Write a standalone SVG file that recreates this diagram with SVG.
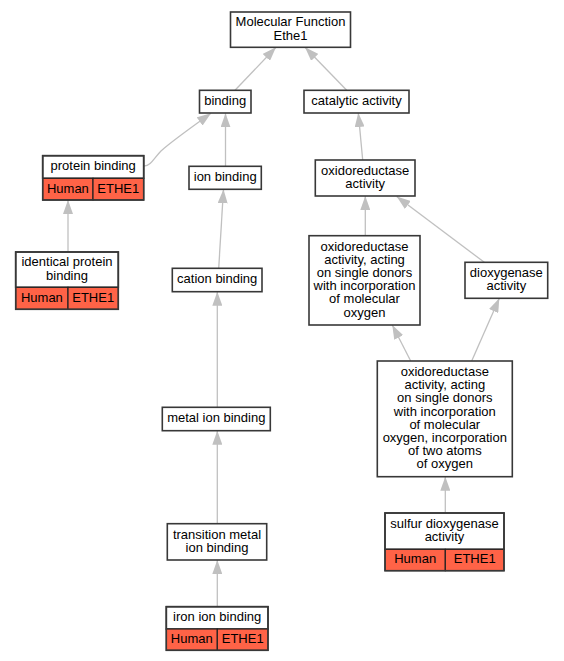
<svg xmlns="http://www.w3.org/2000/svg" width="564" height="661" viewBox="0 0 564 661">
<defs>
<style>
.n{fill:#ffffff;stroke:#383838;stroke-width:1.6}
.c{fill:#ff6347;stroke:#222222;stroke-width:1.2}
.e{fill:none;stroke:#c0c0c0;stroke-width:1.3;marker-end:url(#a)}
text{font-family:"Liberation Sans",Arial,sans-serif;font-size:13px;fill:#000000;text-anchor:middle}
</style>
<marker id="a" markerUnits="userSpaceOnUse" markerWidth="14" markerHeight="10" refX="14" refY="5" orient="auto">
<path d="M0,0 L14,5 L0,10 z" fill="#c0c0c0"/>
</marker>
</defs>
<rect width="564" height="661" fill="#ffffff"/>
<g id="connectors">
<path class="e" d="M235,90.3 L276,47.3"/>
<path class="e" d="M346.7,90.3 L305,47.3"/>
<path class="e" d="M144,166 C151,166 154,158 161,151 C172,141 192,127 211,113.3"/>
<path class="e" d="M225.5,166.3 L225.5,113.3"/>
<path class="e" d="M68,252 L68,200"/>
<path class="e" d="M218.7,268.3 L223.5,189.3"/>
<path class="e" d="M362.7,160 L358.3,113"/>
<path class="e" d="M365.3,235.7 L365.3,196"/>
<path class="e" d="M484.3,262.3 L396.7,196.5"/>
<path class="e" d="M410.7,361 L392.3,325"/>
<path class="e" d="M471.7,361 L499.3,298.3"/>
<path class="e" d="M217.3,407.3 L217.3,291.7"/>
<path class="e" d="M217.3,523.7 L217.3,430.7"/>
<path class="e" d="M445.3,513 L445.3,476.7"/>
<path class="e" d="M217.3,606.7 L217.3,560"/>
</g>
<g id="mf">
<rect class="n" x="230.5" y="12" width="120" height="35.3"/>
<text x="290.5" y="26.4">Molecular Function</text>
<text x="290.5" y="39.6">Ethe1</text>
</g>
<g id="binding">
<rect class="n" x="199.5" y="90.3" width="51.5" height="22.7"/>
<text x="225.2" y="105">binding</text>
</g>
<g id="catalytic">
<rect class="n" x="304" y="90.3" width="105" height="22.7"/>
<text x="356.5" y="105">catalytic activity</text>
</g>
<g id="protein-binding">
<rect class="n" x="42.7" y="155.7" width="101" height="22.6"/>
<rect class="c" x="42.7" y="178.3" width="50.3" height="21.7"/>
<rect class="c" x="93" y="178.3" width="50.7" height="21.7"/>
<rect x="42.7" y="155.7" width="101" height="44.3" fill="none" stroke="#383838" stroke-width="1.6"/>
<text x="93.2" y="170.3">protein binding</text>
<text x="67.9" y="192.5">Human</text>
<text x="118.3" y="192.5">ETHE1</text>
</g>
<g id="ion-binding">
<rect class="n" x="189" y="166.3" width="72.3" height="23"/>
<text x="225.2" y="181.1">ion binding</text>
</g>
<g id="oxidoreductase">
<rect class="n" x="315.3" y="160" width="99.7" height="36"/>
<text x="365.2" y="174.7">oxidoreductase</text>
<text x="365.2" y="187.9">activity</text>
</g>
<g id="identical-protein-binding">
<rect class="n" x="15.7" y="252" width="102.6" height="35.3"/>
<rect class="c" x="15.7" y="287.3" width="52.3" height="22"/>
<rect class="c" x="68" y="287.3" width="50.3" height="22"/>
<rect x="15.7" y="252" width="102.6" height="57.3" fill="none" stroke="#383838" stroke-width="1.6"/>
<text x="67" y="266.4">identical protein</text>
<text x="67" y="279.6">binding</text>
<text x="41.9" y="301.6">Human</text>
<text x="93.2" y="301.6">ETHE1</text>
</g>
<g id="cation-binding">
<rect class="n" x="172.3" y="268.3" width="89.7" height="23.4"/>
<text x="217.2" y="283.3">cation binding</text>
</g>
<g id="oxido-single-donors">
<rect class="n" x="309" y="235.7" width="111" height="89.3"/>
<text x="364.5" y="250.6">oxidoreductase</text>
<text x="364.5" y="263.8">activity, acting</text>
<text x="364.5" y="277">on single donors</text>
<text x="364.5" y="290.2">with incorporation</text>
<text x="364.5" y="303.4">of molecular</text>
<text x="364.5" y="316.6">oxygen</text>
</g>
<g id="dioxygenase">
<rect class="n" x="465" y="262.3" width="82.7" height="36"/>
<text x="506.3" y="277">dioxygenase</text>
<text x="506.3" y="290.2">activity</text>
</g>
<g id="oxido-two-atoms">
<rect class="n" x="377.3" y="361" width="135" height="115.7"/>
<text x="444.8" y="376">oxidoreductase</text>
<text x="444.8" y="389.2">activity, acting</text>
<text x="444.8" y="402.4">on single donors</text>
<text x="444.8" y="415.6">with incorporation</text>
<text x="444.8" y="428.8">of molecular</text>
<text x="444.8" y="442">oxygen, incorporation</text>
<text x="444.8" y="455.2">of two atoms</text>
<text x="444.8" y="468.4">of oxygen</text>
</g>
<g id="metal-ion-binding">
<rect class="n" x="162.3" y="407.3" width="108" height="23.4"/>
<text x="216.3" y="422.3">metal ion binding</text>
</g>
<g id="transition-metal-ion-binding">
<rect class="n" x="167.3" y="523.7" width="99.4" height="36.3"/>
<text x="217" y="538.5">transition metal</text>
<text x="217" y="551.7">ion binding</text>
</g>
<g id="sulfur-dioxygenase">
<rect class="n" x="385" y="513" width="119" height="36.3"/>
<rect class="c" x="385" y="549.3" width="60.3" height="21.4"/>
<rect class="c" x="445.3" y="549.3" width="58.7" height="21.4"/>
<rect x="385" y="513" width="119" height="57.7" fill="none" stroke="#383838" stroke-width="1.6"/>
<text x="444.5" y="527.9">sulfur dioxygenase</text>
<text x="444.5" y="541.1">activity</text>
<text x="415.2" y="563.3">Human</text>
<text x="474.7" y="563.3">ETHE1</text>
</g>
<g id="iron-ion-binding">
<rect class="n" x="166.3" y="606.7" width="101.7" height="22.3"/>
<rect class="c" x="166.3" y="629" width="51" height="21.3"/>
<rect class="c" x="217.3" y="629" width="50.7" height="21.3"/>
<rect x="166.3" y="606.7" width="101.7" height="43.6" fill="none" stroke="#383838" stroke-width="1.6"/>
<text x="217.2" y="621.1">iron ion binding</text>
<text x="191.8" y="643">Human</text>
<text x="242.7" y="643">ETHE1</text>
</g>
</svg>
